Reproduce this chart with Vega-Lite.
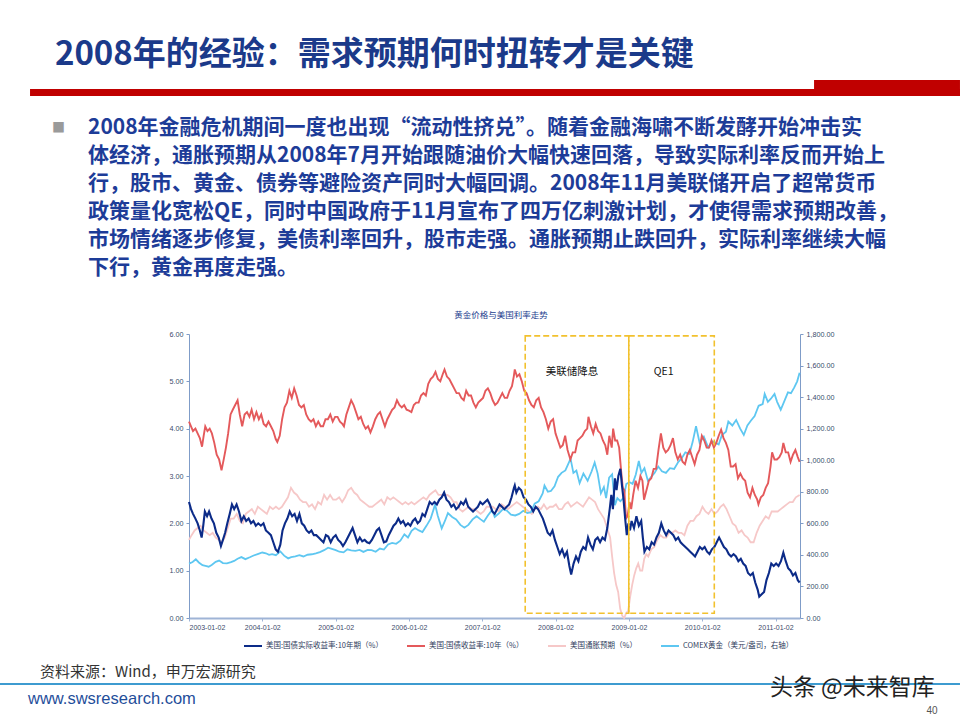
{
"$schema": "https://vega.github.io/schema/vega-lite/v6.json",
"width": 611, "height": 284,
"autosize": {"type": "none"},
"padding": {"left": 189, "top": 334, "right": 160, "bottom": 102},
"background": "white",
"config": {"view": {"stroke": null}, "font": "Liberation Sans"},
"datasets": {
"infl": [
{"d":"2003-01-02","v":1.65},{"d":"2003-01-15","v":1.75},{"d":"2003-01-30","v":1.85},{"d":"2003-02-14","v":1.9},{"d":"2003-03-01","v":1.95},{"d":"2003-03-16","v":1.85},{"d":"2003-03-31","v":1.8},{"d":"2003-04-15","v":1.75},{"d":"2003-04-30","v":1.8},{"d":"2003-05-15","v":1.7},{"d":"2003-05-30","v":1.65},{"d":"2003-06-14","v":1.6},{"d":"2003-06-29","v":1.7},{"d":"2003-07-14","v":1.9},{"d":"2003-07-29","v":2.1},{"d":"2003-08-13","v":2.1},{"d":"2003-08-28","v":2.2},{"d":"2003-09-12","v":2.05},{"d":"2003-09-27","v":2.0},{"d":"2003-10-12","v":2.2},{"d":"2003-10-27","v":2.25},{"d":"2003-11-11","v":2.3},{"d":"2003-11-26","v":2.2},{"d":"2003-12-11","v":2.35},{"d":"2003-12-26","v":2.3},
{"d":"2004-01-10","v":2.25},{"d":"2004-01-25","v":2.2},{"d":"2004-02-09","v":2.35},{"d":"2004-02-24","v":2.3},{"d":"2004-03-10","v":2.35},{"d":"2004-03-25","v":2.3},{"d":"2004-04-09","v":2.35},{"d":"2004-04-24","v":2.45},{"d":"2004-05-09","v":2.55},{"d":"2004-05-24","v":2.75},{"d":"2004-06-08","v":2.65},{"d":"2004-06-23","v":2.6},{"d":"2004-07-08","v":2.5},{"d":"2004-07-23","v":2.45},{"d":"2004-08-07","v":2.45},{"d":"2004-08-22","v":2.35},{"d":"2004-09-06","v":2.4},{"d":"2004-09-21","v":2.3},{"d":"2004-10-06","v":2.45},{"d":"2004-10-21","v":2.4},{"d":"2004-11-05","v":2.6},{"d":"2004-11-20","v":2.5},{"d":"2004-12-05","v":2.6},{"d":"2004-12-20","v":2.5},
{"d":"2005-01-04","v":2.5},{"d":"2005-01-19","v":2.55},{"d":"2005-02-03","v":2.45},{"d":"2005-02-18","v":2.55},{"d":"2005-03-05","v":2.7},{"d":"2005-03-20","v":2.75},{"d":"2005-04-04","v":2.65},{"d":"2005-04-19","v":2.6},{"d":"2005-05-04","v":2.5},{"d":"2005-05-19","v":2.45},{"d":"2005-06-03","v":2.4},{"d":"2005-06-18","v":2.35},{"d":"2005-07-03","v":2.35},{"d":"2005-07-18","v":2.4},{"d":"2005-08-02","v":2.45},{"d":"2005-08-17","v":2.5},{"d":"2005-09-01","v":2.4},{"d":"2005-09-16","v":2.55},{"d":"2005-10-01","v":2.5},{"d":"2005-10-16","v":2.55},{"d":"2005-10-31","v":2.5},{"d":"2005-11-15","v":2.45},{"d":"2005-11-30","v":2.4},{"d":"2005-12-15","v":2.45},{"d":"2005-12-30","v":2.4},
{"d":"2006-01-14","v":2.45},{"d":"2006-01-29","v":2.4},{"d":"2006-02-13","v":2.45},{"d":"2006-02-28","v":2.5},{"d":"2006-03-15","v":2.55},{"d":"2006-03-30","v":2.5},{"d":"2006-04-14","v":2.6},{"d":"2006-04-29","v":2.65},{"d":"2006-05-14","v":2.7},{"d":"2006-05-29","v":2.6},{"d":"2006-06-13","v":2.6},{"d":"2006-06-28","v":2.6},{"d":"2006-07-13","v":2.6},{"d":"2006-07-28","v":2.55},{"d":"2006-08-12","v":2.45},{"d":"2006-08-27","v":2.45},{"d":"2006-09-11","v":2.3},{"d":"2006-09-26","v":2.25},{"d":"2006-10-11","v":2.3},{"d":"2006-10-26","v":2.35},{"d":"2006-11-10","v":2.3},{"d":"2006-11-25","v":2.3},{"d":"2006-12-10","v":2.25},{"d":"2006-12-25","v":2.2},
{"d":"2007-01-09","v":2.25},{"d":"2007-01-24","v":2.35},{"d":"2007-02-08","v":2.35},{"d":"2007-02-23","v":2.35},{"d":"2007-03-10","v":2.3},{"d":"2007-03-25","v":2.25},{"d":"2007-04-09","v":2.4},{"d":"2007-04-24","v":2.35},{"d":"2007-05-09","v":2.3},{"d":"2007-05-24","v":2.35},{"d":"2007-06-08","v":2.4},{"d":"2007-06-23","v":2.45},{"d":"2007-07-08","v":2.4},{"d":"2007-07-23","v":2.35},{"d":"2007-08-07","v":2.3},{"d":"2007-08-22","v":2.25},{"d":"2007-09-06","v":2.2},{"d":"2007-09-21","v":2.3},{"d":"2007-10-06","v":2.35},{"d":"2007-10-21","v":2.3},{"d":"2007-11-05","v":2.4},{"d":"2007-11-20","v":2.3},{"d":"2007-12-05","v":2.35},{"d":"2007-12-20","v":2.35},
{"d":"2008-01-04","v":2.4},{"d":"2008-01-19","v":2.3},{"d":"2008-02-03","v":2.3},{"d":"2008-02-18","v":2.4},{"d":"2008-03-04","v":2.45},{"d":"2008-03-19","v":2.35},{"d":"2008-04-03","v":2.4},{"d":"2008-04-18","v":2.45},{"d":"2008-05-03","v":2.4},{"d":"2008-05-18","v":2.35},{"d":"2008-06-02","v":2.45},{"d":"2008-06-17","v":2.55},{"d":"2008-07-02","v":2.5},{"d":"2008-07-17","v":2.45},{"d":"2008-08-01","v":2.3},{"d":"2008-08-16","v":2.2},{"d":"2008-08-31","v":2.1},{"d":"2008-09-15","v":1.9},{"d":"2008-09-30","v":1.7},{"d":"2008-10-10","v":1.3},{"d":"2008-10-20","v":0.95},{"d":"2008-10-30","v":0.7},{"d":"2008-11-09","v":0.55},{"d":"2008-11-19","v":0.2},{"d":"2008-11-29","v":0.05},{"d":"2008-12-09","v":0.0},{"d":"2008-12-19","v":0.1},{"d":"2008-12-29","v":0.15},
{"d":"2009-01-08","v":0.45},{"d":"2009-01-18","v":0.7},{"d":"2009-01-28","v":0.9},{"d":"2009-02-07","v":1.05},{"d":"2009-02-17","v":1.15},{"d":"2009-02-27","v":1.0},{"d":"2009-03-09","v":1.0},{"d":"2009-03-19","v":1.25},{"d":"2009-03-29","v":1.35},{"d":"2009-04-08","v":1.3},{"d":"2009-04-23","v":1.45},{"d":"2009-05-08","v":1.5},{"d":"2009-05-23","v":1.65},{"d":"2009-06-07","v":1.75},{"d":"2009-06-22","v":1.7},{"d":"2009-07-07","v":1.7},{"d":"2009-07-22","v":1.8},{"d":"2009-08-06","v":1.8},{"d":"2009-08-21","v":1.85},{"d":"2009-09-05","v":1.8},{"d":"2009-09-20","v":1.8},{"d":"2009-10-05","v":1.75},{"d":"2009-10-20","v":1.95},{"d":"2009-11-04","v":2.05},{"d":"2009-11-19","v":2.05},{"d":"2009-12-04","v":2.15},{"d":"2009-12-19","v":2.2},
{"d":"2010-01-03","v":2.35},{"d":"2010-01-18","v":2.25},{"d":"2010-02-02","v":2.2},{"d":"2010-02-17","v":2.3},{"d":"2010-03-04","v":2.2},{"d":"2010-03-19","v":2.25},{"d":"2010-04-03","v":2.35},{"d":"2010-04-18","v":2.4},{"d":"2010-05-03","v":2.3},{"d":"2010-05-18","v":2.15},{"d":"2010-06-02","v":2.0},{"d":"2010-06-17","v":1.95},{"d":"2010-07-02","v":1.8},{"d":"2010-07-17","v":1.85},{"d":"2010-08-01","v":1.75},{"d":"2010-08-16","v":1.7},{"d":"2010-08-31","v":1.6},{"d":"2010-09-15","v":1.6},{"d":"2010-09-30","v":1.8},{"d":"2010-10-15","v":1.95},{"d":"2010-10-30","v":2.05},{"d":"2010-11-14","v":2.15},{"d":"2010-11-29","v":2.1},{"d":"2010-12-14","v":2.25},{"d":"2010-12-29","v":2.25},
{"d":"2011-01-13","v":2.25},{"d":"2011-01-28","v":2.3},{"d":"2011-02-12","v":2.35},{"d":"2011-02-27","v":2.4},{"d":"2011-03-14","v":2.45},{"d":"2011-03-29","v":2.45},{"d":"2011-04-13","v":2.55},{"d":"2011-05-02","v":2.6}
],
"gold": [
{"d":"2003-01-02","v":345},{"d":"2003-01-20","v":355},{"d":"2003-02-05","v":372},{"d":"2003-02-20","v":352},{"d":"2003-03-10","v":335},{"d":"2003-03-25","v":330},{"d":"2003-04-10","v":325},{"d":"2003-04-25","v":336},{"d":"2003-05-15","v":356},{"d":"2003-06-01","v":364},{"d":"2003-06-20","v":348},{"d":"2003-07-10","v":346},{"d":"2003-07-30","v":354},{"d":"2003-08-15","v":362},{"d":"2003-09-01","v":376},{"d":"2003-09-20","v":386},{"d":"2003-10-10","v":373},{"d":"2003-11-01","v":385},{"d":"2003-11-20","v":396},{"d":"2003-12-10","v":405},
{"d":"2004-01-02","v":415},{"d":"2004-01-20","v":410},{"d":"2004-02-05","v":400},{"d":"2004-02-20","v":405},{"d":"2004-03-10","v":398},{"d":"2004-04-01","v":422},{"d":"2004-04-20","v":395},{"d":"2004-05-10","v":378},{"d":"2004-05-25","v":386},{"d":"2004-06-15","v":390},{"d":"2004-07-05","v":398},{"d":"2004-07-25","v":390},{"d":"2004-08-15","v":401},{"d":"2004-09-05","v":404},{"d":"2004-09-25","v":410},{"d":"2004-10-15","v":418},{"d":"2004-11-05","v":430},{"d":"2004-11-25","v":446},{"d":"2004-12-10","v":440},
{"d":"2005-01-02","v":430},{"d":"2005-01-20","v":420},{"d":"2005-02-10","v":416},{"d":"2005-03-01","v":435},{"d":"2005-03-20","v":428},{"d":"2005-04-10","v":425},{"d":"2005-05-01","v":432},{"d":"2005-05-20","v":419},{"d":"2005-06-10","v":432},{"d":"2005-06-30","v":430},{"d":"2005-07-20","v":420},{"d":"2005-08-10","v":440},{"d":"2005-08-30","v":434},{"d":"2005-09-20","v":466},{"d":"2005-10-10","v":476},{"d":"2005-10-30","v":470},{"d":"2005-11-20","v":490},{"d":"2005-12-10","v":530},{"d":"2005-12-28","v":510},
{"d":"2006-01-15","v":552},{"d":"2006-02-01","v":570},{"d":"2006-02-20","v":555},{"d":"2006-03-10","v":545},{"d":"2006-03-30","v":584},{"d":"2006-04-20","v":630},{"d":"2006-05-05","v":690},{"d":"2006-05-12","v":720},{"d":"2006-05-25","v":650},{"d":"2006-06-14","v":568},{"d":"2006-06-30","v":615},{"d":"2006-07-15","v":665},{"d":"2006-08-05","v":640},{"d":"2006-08-25","v":625},{"d":"2006-09-15","v":590},{"d":"2006-10-05","v":572},{"d":"2006-10-25","v":590},{"d":"2006-11-15","v":625},{"d":"2006-12-05","v":645},{"d":"2006-12-25","v":625},
{"d":"2007-01-10","v":610},{"d":"2007-01-30","v":650},{"d":"2007-02-20","v":685},{"d":"2007-03-05","v":640},{"d":"2007-03-25","v":662},{"d":"2007-04-15","v":690},{"d":"2007-05-05","v":680},{"d":"2007-05-25","v":655},{"d":"2007-06-15","v":650},{"d":"2007-07-05","v":660},{"d":"2007-07-25","v":680},{"d":"2007-08-15","v":665},{"d":"2007-09-01","v":670},{"d":"2007-09-20","v":725},{"d":"2007-10-10","v":740},{"d":"2007-10-30","v":790},{"d":"2007-11-08","v":840},{"d":"2007-11-25","v":800},{"d":"2007-12-10","v":805},{"d":"2007-12-28","v":835},
{"d":"2008-01-15","v":895},{"d":"2008-02-01","v":920},{"d":"2008-02-20","v":935},{"d":"2008-03-05","v":975},{"d":"2008-03-17","v":1010},{"d":"2008-03-31","v":920},{"d":"2008-04-15","v":935},{"d":"2008-05-01","v":855},{"d":"2008-05-20","v":915},{"d":"2008-06-10","v":870},{"d":"2008-06-30","v":930},{"d":"2008-07-15","v":985},{"d":"2008-07-30","v":915},{"d":"2008-08-15","v":790},{"d":"2008-08-30","v":830},{"d":"2008-09-10","v":760},{"d":"2008-09-25","v":890},{"d":"2008-10-10","v":910},{"d":"2008-10-24","v":715},{"d":"2008-11-05","v":760},{"d":"2008-11-20","v":740},{"d":"2008-12-05","v":760},{"d":"2008-12-20","v":850},
{"d":"2009-01-05","v":860},{"d":"2009-01-20","v":850},{"d":"2009-02-05","v":910},{"d":"2009-02-20","v":995},{"d":"2009-03-05","v":920},{"d":"2009-03-20","v":950},{"d":"2009-04-06","v":870},{"d":"2009-04-20","v":890},{"d":"2009-05-10","v":920},{"d":"2009-05-28","v":960},{"d":"2009-06-15","v":930},{"d":"2009-07-05","v":920},{"d":"2009-07-25","v":950},{"d":"2009-08-15","v":945},{"d":"2009-09-05","v":990},{"d":"2009-09-20","v":1010},{"d":"2009-10-10","v":1050},{"d":"2009-10-30","v":1040},{"d":"2009-11-15","v":1115},{"d":"2009-12-02","v":1215},{"d":"2009-12-20","v":1110},
{"d":"2010-01-10","v":1150},{"d":"2010-02-01","v":1080},{"d":"2010-02-20","v":1120},{"d":"2010-03-10","v":1110},{"d":"2010-03-25","v":1100},{"d":"2010-04-10","v":1160},{"d":"2010-04-30","v":1180},{"d":"2010-05-12","v":1245},{"d":"2010-06-01","v":1220},{"d":"2010-06-20","v":1255},{"d":"2010-07-10","v":1200},{"d":"2010-07-28","v":1160},{"d":"2010-08-15","v":1220},{"d":"2010-09-01","v":1250},{"d":"2010-09-20","v":1280},{"d":"2010-10-10","v":1345},{"d":"2010-10-30","v":1355},{"d":"2010-11-09","v":1420},{"d":"2010-11-25","v":1370},{"d":"2010-12-10","v":1390},{"d":"2010-12-28","v":1420},
{"d":"2011-01-10","v":1370},{"d":"2011-01-28","v":1320},{"d":"2011-02-15","v":1375},{"d":"2011-03-05","v":1430},{"d":"2011-03-20","v":1425},{"d":"2011-04-05","v":1460},{"d":"2011-04-20","v":1500},{"d":"2011-05-02","v":1555}
],
"nominal": [
{"d":"2003-01-02","v":4.15},{"d":"2003-01-12","v":4.05},{"d":"2003-01-22","v":3.95},{"d":"2003-02-03","v":4.0},{"d":"2003-02-14","v":3.9},{"d":"2003-02-25","v":3.8},{"d":"2003-03-08","v":3.62},{"d":"2003-03-16","v":3.85},{"d":"2003-03-24","v":4.05},{"d":"2003-04-04","v":3.95},{"d":"2003-04-15","v":4.0},{"d":"2003-04-26","v":3.9},{"d":"2003-05-08","v":3.7},{"d":"2003-05-20","v":3.45},{"d":"2003-06-01","v":3.35},{"d":"2003-06-13","v":3.12},{"d":"2003-06-24","v":3.35},{"d":"2003-07-05","v":3.6},{"d":"2003-07-16","v":3.9},{"d":"2003-07-28","v":4.3},{"d":"2003-08-08","v":4.4},{"d":"2003-08-20","v":4.5},{"d":"2003-09-01","v":4.6},{"d":"2003-09-12","v":4.3},{"d":"2003-09-24","v":4.05},{"d":"2003-10-06","v":4.3},{"d":"2003-10-18","v":4.35},{"d":"2003-10-30","v":4.25},{"d":"2003-11-10","v":4.4},{"d":"2003-11-22","v":4.2},{"d":"2003-12-04","v":4.35},{"d":"2003-12-16","v":4.2},{"d":"2003-12-28","v":4.3},
{"d":"2004-01-09","v":4.1},{"d":"2004-01-21","v":4.05},{"d":"2004-02-02","v":4.15},{"d":"2004-02-14","v":4.05},{"d":"2004-02-26","v":3.95},{"d":"2004-03-09","v":3.78},{"d":"2004-03-17","v":3.72},{"d":"2004-03-29","v":3.85},{"d":"2004-04-10","v":4.2},{"d":"2004-04-22","v":4.45},{"d":"2004-05-04","v":4.55},{"d":"2004-05-16","v":4.8},{"d":"2004-05-28","v":4.65},{"d":"2004-06-09","v":4.85},{"d":"2004-06-21","v":4.7},{"d":"2004-07-03","v":4.5},{"d":"2004-07-15","v":4.45},{"d":"2004-07-27","v":4.5},{"d":"2004-08-08","v":4.3},{"d":"2004-08-20","v":4.2},{"d":"2004-09-01","v":4.15},{"d":"2004-09-13","v":4.2},{"d":"2004-09-25","v":4.05},{"d":"2004-10-07","v":4.15},{"d":"2004-10-19","v":4.05},{"d":"2004-10-31","v":4.05},{"d":"2004-11-12","v":4.2},{"d":"2004-11-24","v":4.2},{"d":"2004-12-06","v":4.3},{"d":"2004-12-18","v":4.15},{"d":"2004-12-30","v":4.25},
{"d":"2005-01-11","v":4.25},{"d":"2005-01-23","v":4.15},{"d":"2005-02-04","v":4.1},{"d":"2005-02-12","v":4.05},{"d":"2005-02-24","v":4.3},{"d":"2005-03-08","v":4.45},{"d":"2005-03-20","v":4.6},{"d":"2005-04-01","v":4.5},{"d":"2005-04-13","v":4.35},{"d":"2005-04-25","v":4.2},{"d":"2005-05-07","v":4.25},{"d":"2005-05-19","v":4.1},{"d":"2005-05-31","v":4.0},{"d":"2005-06-12","v":4.05},{"d":"2005-06-24","v":3.92},{"d":"2005-07-06","v":4.05},{"d":"2005-07-18","v":4.2},{"d":"2005-07-30","v":4.3},{"d":"2005-08-11","v":4.35},{"d":"2005-08-23","v":4.2},{"d":"2005-09-04","v":4.05},{"d":"2005-09-16","v":4.2},{"d":"2005-09-28","v":4.3},{"d":"2005-10-10","v":4.4},{"d":"2005-10-22","v":4.45},{"d":"2005-11-03","v":4.6},{"d":"2005-11-15","v":4.5},{"d":"2005-11-27","v":4.45},{"d":"2005-12-09","v":4.5},{"d":"2005-12-21","v":4.4},
{"d":"2006-01-02","v":4.38},{"d":"2006-01-14","v":4.35},{"d":"2006-01-26","v":4.5},{"d":"2006-02-07","v":4.55},{"d":"2006-02-19","v":4.55},{"d":"2006-03-03","v":4.7},{"d":"2006-03-15","v":4.75},{"d":"2006-03-27","v":4.7},{"d":"2006-04-08","v":4.95},{"d":"2006-04-20","v":5.05},{"d":"2006-05-02","v":5.1},{"d":"2006-05-14","v":5.2},{"d":"2006-05-26","v":5.05},{"d":"2006-06-07","v":5.0},{"d":"2006-06-19","v":5.15},{"d":"2006-06-28","v":5.25},{"d":"2006-07-10","v":5.1},{"d":"2006-07-22","v":5.05},{"d":"2006-08-03","v":4.95},{"d":"2006-08-15","v":4.85},{"d":"2006-08-27","v":4.75},{"d":"2006-09-08","v":4.75},{"d":"2006-09-20","v":4.65},{"d":"2006-10-02","v":4.6},{"d":"2006-10-14","v":4.8},{"d":"2006-10-26","v":4.7},{"d":"2006-11-07","v":4.7},{"d":"2006-11-19","v":4.55},{"d":"2006-12-01","v":4.45},{"d":"2006-12-13","v":4.55},{"d":"2006-12-25","v":4.6},
{"d":"2007-01-06","v":4.65},{"d":"2007-01-18","v":4.8},{"d":"2007-01-30","v":4.85},{"d":"2007-02-11","v":4.75},{"d":"2007-02-23","v":4.6},{"d":"2007-03-07","v":4.5},{"d":"2007-03-19","v":4.55},{"d":"2007-03-31","v":4.65},{"d":"2007-04-12","v":4.75},{"d":"2007-04-24","v":4.65},{"d":"2007-05-06","v":4.65},{"d":"2007-05-18","v":4.8},{"d":"2007-05-30","v":4.9},{"d":"2007-06-08","v":5.1},{"d":"2007-06-13","v":5.25},{"d":"2007-06-24","v":5.1},{"d":"2007-07-06","v":5.15},{"d":"2007-07-18","v":5.0},{"d":"2007-07-30","v":4.8},{"d":"2007-08-11","v":4.75},{"d":"2007-08-23","v":4.6},{"d":"2007-09-04","v":4.5},{"d":"2007-09-16","v":4.45},{"d":"2007-09-28","v":4.6},{"d":"2007-10-10","v":4.65},{"d":"2007-10-22","v":4.45},{"d":"2007-11-03","v":4.35},{"d":"2007-11-15","v":4.2},{"d":"2007-11-27","v":4.0},{"d":"2007-12-09","v":4.15},{"d":"2007-12-21","v":4.2},
{"d":"2008-01-02","v":3.9},{"d":"2008-01-14","v":3.75},{"d":"2008-01-26","v":3.6},{"d":"2008-02-07","v":3.65},{"d":"2008-02-19","v":3.85},{"d":"2008-03-02","v":3.55},{"d":"2008-03-16","v":3.35},{"d":"2008-03-28","v":3.5},{"d":"2008-04-09","v":3.5},{"d":"2008-04-21","v":3.75},{"d":"2008-05-03","v":3.8},{"d":"2008-05-15","v":3.85},{"d":"2008-05-27","v":3.95},{"d":"2008-06-08","v":4.0},{"d":"2008-06-14","v":4.25},{"d":"2008-06-26","v":4.05},{"d":"2008-07-08","v":3.9},{"d":"2008-07-20","v":4.1},{"d":"2008-08-01","v":3.95},{"d":"2008-08-13","v":3.9},{"d":"2008-08-25","v":3.75},{"d":"2008-09-06","v":3.65},{"d":"2008-09-16","v":3.45},{"d":"2008-09-26","v":3.85},{"d":"2008-10-08","v":3.6},{"d":"2008-10-15","v":4.0},{"d":"2008-10-25","v":3.75},{"d":"2008-11-04","v":3.75},{"d":"2008-11-14","v":3.6},{"d":"2008-11-24","v":3.1},{"d":"2008-12-02","v":2.75},{"d":"2008-12-10","v":2.7},{"d":"2008-12-18","v":2.1},{"d":"2008-12-26","v":2.15},
{"d":"2009-01-05","v":2.45},{"d":"2009-01-13","v":2.3},{"d":"2009-01-23","v":2.6},{"d":"2009-02-04","v":2.9},{"d":"2009-02-16","v":2.75},{"d":"2009-02-28","v":3.0},{"d":"2009-03-10","v":2.9},{"d":"2009-03-18","v":2.5},{"d":"2009-03-30","v":2.7},{"d":"2009-04-11","v":2.9},{"d":"2009-04-23","v":2.95},{"d":"2009-05-05","v":3.15},{"d":"2009-05-17","v":3.15},{"d":"2009-05-29","v":3.55},{"d":"2009-06-10","v":3.9},{"d":"2009-06-22","v":3.6},{"d":"2009-07-04","v":3.5},{"d":"2009-07-16","v":3.55},{"d":"2009-07-28","v":3.65},{"d":"2009-08-09","v":3.8},{"d":"2009-08-21","v":3.5},{"d":"2009-09-02","v":3.35},{"d":"2009-09-14","v":3.45},{"d":"2009-09-26","v":3.3},{"d":"2009-10-08","v":3.25},{"d":"2009-10-20","v":3.45},{"d":"2009-11-01","v":3.55},{"d":"2009-11-13","v":3.4},{"d":"2009-11-25","v":3.25},{"d":"2009-12-07","v":3.45},{"d":"2009-12-19","v":3.55},{"d":"2009-12-31","v":3.85},
{"d":"2010-01-12","v":3.75},{"d":"2010-01-24","v":3.6},{"d":"2010-02-05","v":3.6},{"d":"2010-02-17","v":3.75},{"d":"2010-03-01","v":3.6},{"d":"2010-03-13","v":3.7},{"d":"2010-03-25","v":3.85},{"d":"2010-04-06","v":3.98},{"d":"2010-04-18","v":3.8},{"d":"2010-04-30","v":3.7},{"d":"2010-05-12","v":3.55},{"d":"2010-05-24","v":3.2},{"d":"2010-06-05","v":3.2},{"d":"2010-06-17","v":3.25},{"d":"2010-06-29","v":2.95},{"d":"2010-07-11","v":3.05},{"d":"2010-07-23","v":2.95},{"d":"2010-08-04","v":2.9},{"d":"2010-08-16","v":2.65},{"d":"2010-08-28","v":2.55},{"d":"2010-09-09","v":2.75},{"d":"2010-09-21","v":2.6},{"d":"2010-10-03","v":2.5},{"d":"2010-10-09","v":2.4},{"d":"2010-10-21","v":2.55},{"d":"2010-11-02","v":2.6},{"d":"2010-11-14","v":2.75},{"d":"2010-11-26","v":2.85},{"d":"2010-12-08","v":3.2},{"d":"2010-12-16","v":3.5},{"d":"2010-12-28","v":3.35},
{"d":"2011-01-09","v":3.35},{"d":"2011-01-21","v":3.4},{"d":"2011-02-02","v":3.5},{"d":"2011-02-10","v":3.7},{"d":"2011-02-22","v":3.5},{"d":"2011-03-06","v":3.5},{"d":"2011-03-18","v":3.3},{"d":"2011-03-30","v":3.45},{"d":"2011-04-11","v":3.55},{"d":"2011-04-23","v":3.4},{"d":"2011-05-02","v":3.3}
],
"real": [
{"d":"2003-01-02","v":2.45},{"d":"2003-01-12","v":2.3},{"d":"2003-01-22","v":2.2},{"d":"2003-02-03","v":2.1},{"d":"2003-02-14","v":2.0},{"d":"2003-02-25","v":1.85},{"d":"2003-03-06","v":1.7},{"d":"2003-03-14","v":1.95},{"d":"2003-03-22","v":2.25},{"d":"2003-04-02","v":2.15},{"d":"2003-04-12","v":2.25},{"d":"2003-04-24","v":2.1},{"d":"2003-05-06","v":2.0},{"d":"2003-05-18","v":1.8},{"d":"2003-05-30","v":1.7},{"d":"2003-06-10","v":1.52},{"d":"2003-06-20","v":1.65},{"d":"2003-07-01","v":1.8},{"d":"2003-07-12","v":2.0},{"d":"2003-07-24","v":2.2},{"d":"2003-08-04","v":2.4},{"d":"2003-08-15","v":2.3},{"d":"2003-08-27","v":2.4},{"d":"2003-09-08","v":2.25},{"d":"2003-09-20","v":2.05},{"d":"2003-10-02","v":2.15},{"d":"2003-10-14","v":2.05},{"d":"2003-10-26","v":2.1},{"d":"2003-11-07","v":2.0},{"d":"2003-11-19","v":2.05},{"d":"2003-12-01","v":1.95},{"d":"2003-12-13","v":2.0},{"d":"2003-12-26","v":1.95},
{"d":"2004-01-08","v":2.0},{"d":"2004-01-20","v":1.85},{"d":"2004-02-02","v":1.8},{"d":"2004-02-14","v":1.75},{"d":"2004-02-26","v":1.6},{"d":"2004-03-09","v":1.45},{"d":"2004-03-20","v":1.4},{"d":"2004-04-01","v":1.55},{"d":"2004-04-12","v":1.85},{"d":"2004-04-24","v":2.0},{"d":"2004-05-06","v":2.1},{"d":"2004-05-18","v":2.25},{"d":"2004-05-30","v":2.15},{"d":"2004-06-11","v":2.2},{"d":"2004-06-23","v":2.05},{"d":"2004-07-05","v":2.2},{"d":"2004-07-17","v":2.0},{"d":"2004-07-29","v":1.95},{"d":"2004-08-10","v":1.85},{"d":"2004-08-22","v":1.8},{"d":"2004-09-03","v":1.85},{"d":"2004-09-15","v":1.75},{"d":"2004-09-27","v":1.75},{"d":"2004-10-09","v":1.7},{"d":"2004-10-21","v":1.65},{"d":"2004-11-02","v":1.6},{"d":"2004-11-14","v":1.75},{"d":"2004-11-26","v":1.72},{"d":"2004-12-08","v":1.6},{"d":"2004-12-20","v":1.7},
{"d":"2005-01-02","v":1.75},{"d":"2005-01-14","v":1.65},{"d":"2005-01-26","v":1.6},{"d":"2005-02-07","v":1.52},{"d":"2005-02-19","v":1.6},{"d":"2005-03-03","v":1.7},{"d":"2005-03-15","v":1.8},{"d":"2005-03-27","v":1.9},{"d":"2005-04-08","v":1.75},{"d":"2005-04-20","v":1.6},{"d":"2005-05-02","v":1.7},{"d":"2005-05-14","v":1.62},{"d":"2005-05-26","v":1.65},{"d":"2005-06-07","v":1.6},{"d":"2005-06-19","v":1.58},{"d":"2005-07-01","v":1.65},{"d":"2005-07-13","v":1.75},{"d":"2005-07-25","v":1.85},{"d":"2005-08-06","v":1.9},{"d":"2005-08-18","v":1.75},{"d":"2005-08-30","v":1.6},{"d":"2005-09-11","v":1.62},{"d":"2005-09-23","v":1.75},{"d":"2005-10-05","v":1.85},{"d":"2005-10-17","v":1.95},{"d":"2005-10-29","v":2.0},{"d":"2005-11-10","v":2.1},{"d":"2005-11-22","v":2.0},{"d":"2005-12-04","v":2.05},{"d":"2005-12-16","v":1.95},{"d":"2005-12-28","v":2.0},
{"d":"2006-01-09","v":1.95},{"d":"2006-01-21","v":2.05},{"d":"2006-02-02","v":2.1},{"d":"2006-02-14","v":2.0},{"d":"2006-02-26","v":2.05},{"d":"2006-03-10","v":2.2},{"d":"2006-03-22","v":2.15},{"d":"2006-04-03","v":2.3},{"d":"2006-04-15","v":2.45},{"d":"2006-04-27","v":2.4},{"d":"2006-05-09","v":2.45},{"d":"2006-05-21","v":2.4},{"d":"2006-06-02","v":2.5},{"d":"2006-06-14","v":2.55},{"d":"2006-06-26","v":2.65},{"d":"2006-07-08","v":2.5},{"d":"2006-07-20","v":2.45},{"d":"2006-08-01","v":2.35},{"d":"2006-08-13","v":2.4},{"d":"2006-08-25","v":2.3},{"d":"2006-09-06","v":2.35},{"d":"2006-09-18","v":2.45},{"d":"2006-09-30","v":2.4},{"d":"2006-10-12","v":2.5},{"d":"2006-10-24","v":2.35},{"d":"2006-11-05","v":2.3},{"d":"2006-11-17","v":2.25},{"d":"2006-11-29","v":2.3},{"d":"2006-12-11","v":2.35},{"d":"2006-12-23","v":2.45},
{"d":"2007-01-04","v":2.4},{"d":"2007-01-16","v":2.45},{"d":"2007-01-28","v":2.5},{"d":"2007-02-09","v":2.4},{"d":"2007-02-21","v":2.25},{"d":"2007-03-05","v":2.2},{"d":"2007-03-17","v":2.3},{"d":"2007-03-29","v":2.4},{"d":"2007-04-10","v":2.35},{"d":"2007-04-22","v":2.3},{"d":"2007-05-04","v":2.35},{"d":"2007-05-16","v":2.4},{"d":"2007-05-28","v":2.55},{"d":"2007-06-09","v":2.75},{"d":"2007-06-13","v":2.8},{"d":"2007-06-21","v":2.65},{"d":"2007-07-03","v":2.75},{"d":"2007-07-15","v":2.7},{"d":"2007-07-27","v":2.55},{"d":"2007-08-08","v":2.5},{"d":"2007-08-20","v":2.4},{"d":"2007-09-01","v":2.35},{"d":"2007-09-13","v":2.25},{"d":"2007-09-25","v":2.35},{"d":"2007-10-07","v":2.3},{"d":"2007-10-19","v":2.2},{"d":"2007-10-31","v":2.1},{"d":"2007-11-12","v":1.95},{"d":"2007-11-24","v":1.8},{"d":"2007-12-06","v":1.75},{"d":"2007-12-18","v":1.85},{"d":"2007-12-30","v":1.65},
{"d":"2008-01-11","v":1.5},{"d":"2008-01-23","v":1.35},{"d":"2008-02-04","v":1.45},{"d":"2008-02-16","v":1.3},{"d":"2008-02-28","v":1.4},{"d":"2008-03-11","v":1.1},{"d":"2008-03-20","v":0.92},{"d":"2008-04-01","v":1.15},{"d":"2008-04-13","v":1.3},{"d":"2008-04-25","v":1.2},{"d":"2008-05-07","v":1.4},{"d":"2008-05-19","v":1.5},{"d":"2008-05-31","v":1.45},{"d":"2008-06-12","v":1.7},{"d":"2008-06-24","v":1.55},{"d":"2008-07-06","v":1.45},{"d":"2008-07-18","v":1.65},{"d":"2008-07-30","v":1.7},{"d":"2008-08-11","v":1.6},{"d":"2008-08-23","v":1.7},{"d":"2008-09-04","v":1.65},{"d":"2008-09-16","v":1.9},{"d":"2008-09-28","v":2.3},{"d":"2008-10-06","v":2.6},{"d":"2008-10-14","v":2.3},{"d":"2008-10-24","v":2.95},{"d":"2008-11-01","v":2.7},{"d":"2008-11-10","v":3.0},{"d":"2008-11-20","v":3.15},{"d":"2008-11-28","v":2.8},{"d":"2008-12-06","v":2.5},{"d":"2008-12-14","v":2.1},{"d":"2008-12-22","v":1.75},{"d":"2008-12-30","v":2.0},
{"d":"2009-01-07","v":1.85},{"d":"2009-01-15","v":2.05},{"d":"2009-01-27","v":1.9},{"d":"2009-02-08","v":2.15},{"d":"2009-02-20","v":1.95},{"d":"2009-03-04","v":2.05},{"d":"2009-03-12","v":1.7},{"d":"2009-03-20","v":1.4},{"d":"2009-04-01","v":1.5},{"d":"2009-04-13","v":1.45},{"d":"2009-04-25","v":1.6},{"d":"2009-05-07","v":1.55},{"d":"2009-05-19","v":1.7},{"d":"2009-05-31","v":1.8},{"d":"2009-06-12","v":2.0},{"d":"2009-06-24","v":1.85},{"d":"2009-07-06","v":1.75},{"d":"2009-07-18","v":1.85},{"d":"2009-07-30","v":1.8},{"d":"2009-08-11","v":1.75},{"d":"2009-08-23","v":1.65},{"d":"2009-09-04","v":1.7},{"d":"2009-09-16","v":1.6},{"d":"2009-09-28","v":1.55},{"d":"2009-10-10","v":1.5},{"d":"2009-10-22","v":1.45},{"d":"2009-11-03","v":1.4},{"d":"2009-11-15","v":1.35},{"d":"2009-11-27","v":1.3},{"d":"2009-12-09","v":1.4},{"d":"2009-12-21","v":1.5},
{"d":"2010-01-02","v":1.45},{"d":"2010-01-14","v":1.5},{"d":"2010-01-26","v":1.4},{"d":"2010-02-07","v":1.35},{"d":"2010-02-19","v":1.45},{"d":"2010-03-03","v":1.5},{"d":"2010-03-15","v":1.6},{"d":"2010-03-27","v":1.7},{"d":"2010-04-08","v":1.6},{"d":"2010-04-20","v":1.5},{"d":"2010-05-02","v":1.45},{"d":"2010-05-14","v":1.35},{"d":"2010-05-26","v":1.3},{"d":"2010-06-07","v":1.35},{"d":"2010-06-19","v":1.3},{"d":"2010-07-01","v":1.2},{"d":"2010-07-13","v":1.25},{"d":"2010-07-25","v":1.15},{"d":"2010-08-06","v":1.1},{"d":"2010-08-18","v":0.95},{"d":"2010-08-30","v":0.9},{"d":"2010-09-11","v":0.95},{"d":"2010-09-23","v":0.75},{"d":"2010-10-05","v":0.6},{"d":"2010-10-13","v":0.45},{"d":"2010-10-25","v":0.5},{"d":"2010-11-06","v":0.55},{"d":"2010-11-18","v":0.8},{"d":"2010-11-30","v":0.95},{"d":"2010-12-12","v":1.15},{"d":"2010-12-24","v":1.1},
{"d":"2011-01-05","v":1.15},{"d":"2011-01-17","v":1.1},{"d":"2011-01-29","v":1.2},{"d":"2011-02-10","v":1.38},{"d":"2011-02-22","v":1.2},{"d":"2011-03-06","v":1.05},{"d":"2011-03-18","v":1.0},{"d":"2011-03-30","v":0.9},{"d":"2011-04-11","v":0.95},{"d":"2011-04-23","v":0.8},{"d":"2011-05-02","v":0.75}
],
"periods": [
{"start":"2007-08-04","end":"2009-01-01","label":"美联储降息"},
{"start":"2009-01-01","end":"2010-03-03","label":"QE1"}
]
},
"layer": [
{
"data": {"name": "infl"},
"mark": {"type": "line", "strokeWidth": 1.8},
"encoding": {
"x": {"field": "d", "type": "temporal", "scale": {"domain": [{"year": 2003, "month": 1, "date": 2}, {"year": 2011, "month": 5, "date": 4}], "nice": false},
"axis": {"values": [{"year": 2003, "month": 1, "date": 2}, {"year": 2004, "month": 1, "date": 2}, {"year": 2005, "month": 1, "date": 2}, {"year": 2006, "month": 1, "date": 2}, {"year": 2007, "month": 1, "date": 2}, {"year": 2008, "month": 1, "date": 2}, {"year": 2009, "month": 1, "date": 2}, {"year": 2010, "month": 1, "date": 2}, {"year": 2011, "month": 1, "date": 2}], "format": "%Y-%m-%d", "title": null, "grid": false, "labelFontSize": 7, "labelColor": "#3d4a6b", "domainColor": "#9fb4d6", "domainWidth": 2, "tickColor": "#9fb4d6", "tickSize": 3, "labelPadding": 2, "labelOverlap": false}},
"y": {"field": "v", "type": "quantitative", "scale": {"domain": [0, 6], "nice": false, "zero": false}, "axis": null},
"color": {"datum": "美国通胀预期（%）", "type": "nominal",
"scale": {"domain": ["美国:国债实际收益率:10年期（%）", "美国:国债收益率:10年（%）", "美国通胀预期（%）", "COMEX黄金（美元/盎司，右轴）"], "range": ["#0c2b88", "#e4595b", "#f6c8c8", "#5ec7f1"]},
"legend": {"orient": "none", "legendX": 54, "legendY": 302, "direction": "horizontal", "columns": 4, "title": null, "symbolType": "stroke", "symbolSize": 324, "symbolStrokeWidth": 2, "labelFontSize": 7.5, "labelColor": "#2f3b5c", "labelFont": "Noto Sans CJK SC", "columnPadding": 20, "labelOffset": 3, "labelLimit": 300}}
}
},
{
"data": {"name": "gold"},
"mark": {"type": "line", "strokeWidth": 1.8},
"encoding": {
"x": {"field": "d", "type": "temporal", "scale": {"domain": [{"year": 2003, "month": 1, "date": 2}, {"year": 2011, "month": 5, "date": 4}], "nice": false},
"axis": {"values": [{"year": 2003, "month": 1, "date": 2}, {"year": 2004, "month": 1, "date": 2}, {"year": 2005, "month": 1, "date": 2}, {"year": 2006, "month": 1, "date": 2}, {"year": 2007, "month": 1, "date": 2}, {"year": 2008, "month": 1, "date": 2}, {"year": 2009, "month": 1, "date": 2}, {"year": 2010, "month": 1, "date": 2}, {"year": 2011, "month": 1, "date": 2}], "format": "%Y-%m-%d", "title": null, "grid": false, "labelFontSize": 7, "labelColor": "#3d4a6b", "domainColor": "#9fb4d6", "domainWidth": 2, "tickColor": "#9fb4d6", "tickSize": 3, "labelPadding": 2, "labelOverlap": false}},
"y": {"field": "v", "type": "quantitative", "scale": {"domain": [0, 1800], "nice": false, "zero": false},
"axis": {"orient": "right", "values": [0, 200, 400, 600, 800, 1000, 1200, 1400, 1600, 1800], "format": ",.2f", "title": null, "grid": false, "labelFontSize": 7.2, "labelColor": "#3d4a6b", "domainColor": "#7f9cc8", "tickColor": "#7f9cc8", "tickSize": 3, "labelPadding": 3}},
"color": {"datum": "COMEX黄金（美元/盎司，右轴）", "type": "nominal"}
}
},
{
"layer": [
{
"data": {"name": "nominal"},
"mark": {"type": "line", "strokeWidth": 1.9},
"encoding": {
"x": {"field": "d", "type": "temporal", "scale": {"domain": [{"year": 2003, "month": 1, "date": 2}, {"year": 2011, "month": 5, "date": 4}], "nice": false},
"axis": {"values": [{"year": 2003, "month": 1, "date": 2}, {"year": 2004, "month": 1, "date": 2}, {"year": 2005, "month": 1, "date": 2}, {"year": 2006, "month": 1, "date": 2}, {"year": 2007, "month": 1, "date": 2}, {"year": 2008, "month": 1, "date": 2}, {"year": 2009, "month": 1, "date": 2}, {"year": 2010, "month": 1, "date": 2}, {"year": 2011, "month": 1, "date": 2}], "format": "%Y-%m-%d", "title": null, "grid": false, "labelFontSize": 7, "labelColor": "#3d4a6b", "domainColor": "#9fb4d6", "domainWidth": 2, "tickColor": "#9fb4d6", "tickSize": 3, "labelPadding": 2, "labelOverlap": false}},
"y": {"field": "v", "type": "quantitative", "scale": {"domain": [0, 6], "nice": false, "zero": false},
"axis": {"orient": "left", "values": [0, 1, 2, 3, 4, 5, 6], "format": ".2f", "title": null, "grid": false, "labelFontSize": 7.2, "labelColor": "#3d4a6b", "domainColor": "#7f9cc8", "tickColor": "#7f9cc8", "tickSize": 3, "labelPadding": 3}},
"color": {"datum": "美国:国债收益率:10年（%）", "type": "nominal"}
}
},
{
"data": {"name": "real"},
"mark": {"type": "line", "strokeWidth": 2.1},
"encoding": {
"x": {"field": "d", "type": "temporal"},
"y": {"field": "v", "type": "quantitative"},
"color": {"datum": "美国:国债实际收益率:10年期（%）", "type": "nominal"}
}
},
{
"data": {"name": "periods"},
"mark": {"type": "rect", "filled": false, "stroke": "#f2c12e", "strokeWidth": 1.6, "strokeDash": [6, 3]},
"encoding": {
"x": {"field": "start", "type": "temporal"},
"x2": {"field": "end"},
"y": {"datum": 0.1, "type": "quantitative"},
"y2": {"datum": 5.96}
}
},
{
"data": {"values": [{"t": "美联储降息", "d": "2008-03-24"}, {"t": "QE1", "d": "2009-06-24"}]},
"mark": {"type": "text", "font": "Noto Sans CJK SC", "fontSize": 10.5, "color": "#111111", "align": "center", "baseline": "middle"},
"encoding": {
"x": {"field": "d", "type": "temporal"},
"y": {"datum": 5.2, "type": "quantitative"},
"text": {"field": "t"}
}
},
{
"data": {"values": [{"t": "黄金价格与美国利率走势"}]},
"mark": {"type": "text", "font": "Noto Sans CJK SC", "fontSize": 8.5, "color": "#23408e", "align": "center", "baseline": "middle"},
"encoding": {
"x": {"datum": {"year": 2007, "month": 4, "date": 5}, "type": "temporal"},
"y": {"datum": 6.401, "type": "quantitative"},
"text": {"field": "t"}
}
},
{
"data": {"values": [{"t": "2008年的经验：需求预期何时扭转才是关键"}]},
"mark": {"type": "text", "font": "Noto Sans CJK SC", "fontSize": 33, "fontWeight": "bold", "color": "#1b3a8a", "align": "left", "baseline": "middle"},
"encoding": {
"x": {"datum": {"year": 2001, "month": 3, "date": 5}, "type": "temporal"},
"y": {"datum": 11.894, "type": "quantitative"},
"text": {"field": "t"}
}
},
{
"data": {"values": [{"t": "■"}]},
"mark": {"type": "text", "font": "Noto Sans CJK SC", "fontSize": 13, "color": "#9a9a9a", "align": "left", "baseline": "middle"},
"encoding": {
"x": {"datum": {"year": 2001, "month": 2, "date": 18}, "type": "temporal"},
"y": {"datum": 10.352, "type": "quantitative"},
"text": {"field": "t"}
}
},
{
"data": {"values": [{"t": "2008年金融危机期间一度也出现“流动性挤兑”。随着金融海啸不断发酵开始冲击实\n体经济，通胀预期从2008年7月开始跟随油价大幅快速回落，导致实际利率反而开始上\n行，股市、黄金、债券等避险资产同时大幅回调。2008年11月美联储开启了超常货币\n政策量化宽松QE，同时中国政府于11月宣布了四万亿刺激计划，才使得需求预期改善，\n市场情绪逐步修复，美债利率回升，股市走强。通胀预期止跌回升，实际利率继续大幅\n下行，黄金再度走强。"}]},
"mark": {"type": "text", "font": "Noto Sans CJK SC", "fontSize": 21, "fontWeight": "bold", "color": "#1d3c98", "align": "left", "baseline": "top", "lineBreak": "\n", "lineHeight": 28},
"encoding": {
"x": {"datum": {"year": 2001, "month": 8, "date": 17}, "type": "temporal"},
"y": {"datum": 10.574, "type": "quantitative"},
"text": {"field": "t"}
}
},
{
"data": {"values": [{"k": "bar"}]},
"mark": {"type": "rect", "color": "#c00000"},
"encoding": {
"x": {"datum": {"year": 2000, "month": 11, "date": 1}, "type": "temporal"},
"x2": {"datum": {"year": 2013, "month": 7, "date": 9}},
"y": {"datum": 11.176, "type": "quantitative"},
"y2": {"datum": 11.028}
}
},
{
"data": {"values": [{"k": "bar"}]},
"mark": {"type": "rect", "color": "#c00000"},
"encoding": {
"x": {"datum": {"year": 2011, "month": 7, "date": 13}, "type": "temporal"},
"x2": {"datum": {"year": 2013, "month": 7, "date": 9}},
"y": {"datum": 11.366, "type": "quantitative"},
"y2": {"datum": 11.028}
}
},
{
"data": {"values": [{"k": "line"}]},
"mark": {"type": "rect", "color": "#3d9bd0"},
"encoding": {
"x": {"datum": {"year": 2000, "month": 6, "date": 4}, "type": "temporal"},
"x2": {"datum": {"year": 2013, "month": 7, "date": 9}},
"y": {"datum": -1.373, "type": "quantitative"},
"y2": {"datum": -1.415}
}
},
{
"data": {"values": [{"t": "资料来源：Wind，申万宏源研究"}]},
"mark": {"type": "text", "font": "Noto Sans CJK SC", "fontSize": 15, "color": "#333333", "align": "left", "baseline": "middle"},
"encoding": {
"x": {"datum": {"year": 2000, "month": 12, "date": 21}, "type": "temporal"},
"y": {"datum": -1.141, "type": "quantitative"},
"text": {"field": "t"}
}
},
{
"data": {"values": [{"t": "www.swsresearch.com"}]},
"mark": {"type": "text", "font": "Liberation Sans", "fontSize": 16.5, "color": "#1f4e9a", "align": "left", "baseline": "middle"},
"encoding": {
"x": {"datum": {"year": 2000, "month": 10, "date": 22}, "type": "temporal"},
"y": {"datum": -1.711, "type": "quantitative"},
"text": {"field": "t"}
}
},
{
"data": {"values": [{"t": "头条 @未来智库"}]},
"mark": {"type": "text", "font": "Noto Sans CJK SC", "fontSize": 23, "color": "#222222", "align": "center", "baseline": "middle"},
"encoding": {
"x": {"datum": {"year": 2012, "month": 1, "date": 20}, "type": "temporal"},
"y": {"datum": -1.47, "type": "quantitative"},
"text": {"field": "t"}
}
},
{
"data": {"values": [{"t": "40"}]},
"mark": {"type": "text", "font": "Liberation Sans", "fontSize": 10, "color": "#555555", "align": "center", "baseline": "middle"},
"encoding": {
"x": {"datum": {"year": 2013, "month": 2, "date": 20}, "type": "temporal"},
"y": {"datum": -1.96, "type": "quantitative"},
"text": {"field": "t"}
}
}
]
}
],
"resolve": {"scale": {"y": "independent"}}
}
